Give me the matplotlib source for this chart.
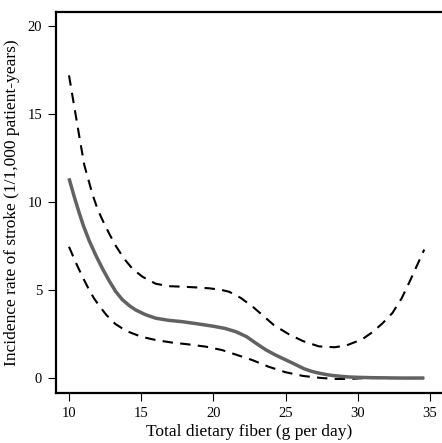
import numpy as np
import matplotlib
matplotlib.use("Agg")
import matplotlib.pyplot as plt

# fitted incidence curve and its confidence limits
fit_x = [10.0, 10.4, 10.72, 11.0, 11.4, 11.87, 12.33, 12.8, 13.25, 13.7, 14.2, 14.64,
         15.3, 16.0, 16.9, 17.87, 18.9, 19.95, 20.8, 21.57, 22.3, 22.96, 23.6, 24.2,
         24.7, 25.3, 25.8, 26.3, 26.8, 27.3, 27.8, 28.2, 28.8, 29.4, 30.0, 31.0,
         32.0, 33.0, 34.6]
fit_y = [11.35, 10.2, 9.35, 8.65, 7.8, 6.95, 6.2, 5.5, 4.9, 4.45, 4.1, 3.86,
         3.6, 3.4, 3.28, 3.2, 3.08, 2.95, 2.82, 2.63, 2.35, 1.97, 1.62, 1.35,
         1.15, 0.92, 0.72, 0.52, 0.38, 0.28, 0.2, 0.15, 0.1, 0.06, 0.04, 0.02,
         0.01, 0.0, 0.0]

upper_x = [10.0, 10.37, 10.72, 11.06, 11.64, 12.0, 12.45, 12.85, 13.25, 13.8, 14.4, 15.1,
           16.0, 16.9, 17.87, 18.8, 19.7, 20.5, 21.1, 21.9, 22.73, 23.5, 24.2, 25.2,
           26.2, 27.3, 28.4, 29.2, 30.3, 31.0, 31.7, 32.4, 33.05, 33.6, 34.1, 34.6]
upper_y = [17.2, 15.4, 13.7, 12.1, 10.4, 9.55, 8.75, 8.1, 7.5, 6.8, 6.2, 5.75,
           5.36, 5.22, 5.19, 5.15, 5.1, 5.02, 4.9, 4.55, 4.05, 3.5, 3.0, 2.5,
           2.1, 1.8, 1.75, 1.85, 2.2, 2.6, 3.1, 3.7, 4.55, 5.5, 6.4, 7.3]

lower_x = [10.0, 10.45, 10.93, 11.4, 11.73, 12.1, 12.57, 13.2, 13.95, 15.0, 16.0, 17.1,
           18.3, 19.5, 20.6, 21.6, 22.7, 23.8, 25.0, 26.2, 27.5, 28.5, 29.5, 30.5,
           34.6]
lower_y = [7.46, 6.6, 5.76, 5.0, 4.53, 4.1, 3.6, 3.08, 2.68, 2.35, 2.16, 2.02,
           1.91, 1.78, 1.59, 1.32, 1.02, 0.65, 0.33, 0.12, 0.0, -0.05, -0.05, 0.0,
           0.0]

x_ticks = [10, 15, 20, 25, 30, 35]
y_ticks = [0, 5, 10, 15, 20]

plt.rcParams["font.family"] = ["Liberation Serif", "DejaVu Serif"]

fig = plt.figure(figsize=(4.42, 4.43), dpi=100)
ax = fig.add_axes([56 / 442, 50 / 443, 386 / 442, 381 / 443])

dash = (0, (5, 3.5))
ax.plot(upper_x, upper_y, color="black", lw=1.5, linestyle=dash)
ax.plot(lower_x, lower_y, color="black", lw=1.5, linestyle=dash)
ax.plot(fit_x, fit_y, color="#626262", lw=2.5, solid_capstyle="butt")

ax.set_xlim(9.1, 35.83)
ax.set_ylim(-0.85, 20.8)
ax.set_xticks(x_ticks)
ax.set_yticks(y_ticks)
ax.tick_params(direction="out", length=6, width=0.8, labelsize=10.5, pad=4)

for side in ["left", "bottom", "top"]:
    ax.spines[side].set_linewidth(1.6)
ax.spines["right"].set_visible(False)

ax.set_xlabel("Total dietary fiber (g per day)", fontsize=12.5, labelpad=3)
ax.set_ylabel("Incidence rate of stroke (1/1,000 patient-years)", fontsize=12.5, labelpad=5)

plt.savefig("out.png", dpi=100)
plt.close(fig)
